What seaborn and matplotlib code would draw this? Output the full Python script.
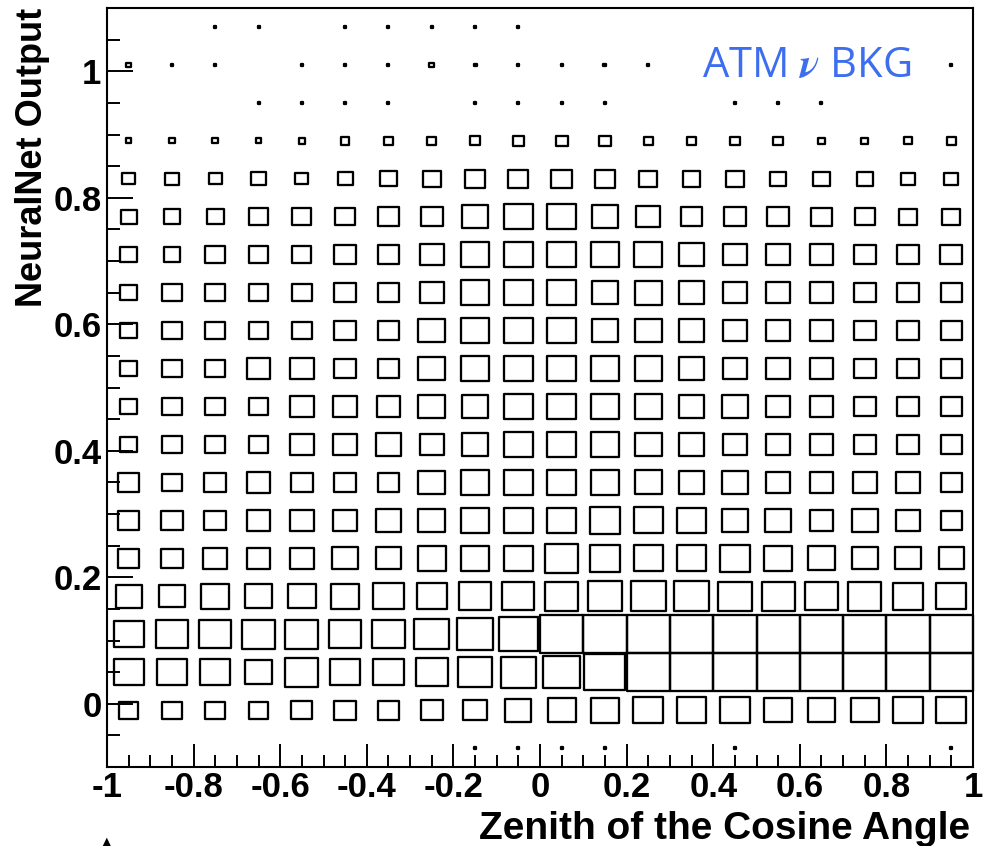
import numpy as np
import pandas as pd
import matplotlib
matplotlib.use("Agg")
import matplotlib.pyplot as plt
from matplotlib.path import Path
from matplotlib.markers import MarkerStyle
from matplotlib.ticker import MultipleLocator
import seaborn as sns

# ---- binning: 20 bins in cos(zenith), 20 bins in NeuralNet output ----
cos_lo, cos_hi, n_cos = -1.0, 1.0, 20
nn_lo, nn_hi, n_nn = -0.1, 1.1, 20

# ---- bin contents, one list per NeuralNet-output row (cos bins left -> right) ----
nn_m0p07 = [0, 0, 0, 0, 0, 0, 0, 0, 2, 2, 2, 2, 0, 0, 2, 0, 0, 0, 0, 2]
nn_m0p01 = [203, 203, 203, 203, 240, 253, 253, 270, 295, 366, 412, 433, 474, 474, 486, 424, 412, 424, 496, 486]
nn_0p05 = [486, 486, 486, 412, 574, 496, 486, 563, 624, 672, 738, 900, 1000, 1000, 1000, 1000, 1000, 1000, 1000, 1000]
nn_0p11 = [486, 563, 563, 574, 574, 563, 563, 646, 711, 832, 1000, 1000, 1000, 1000, 1000, 1000, 1000, 1000, 1000, 1000]
nn_0p17 = [366, 347, 424, 412, 412, 424, 486, 486, 563, 539, 574, 624, 635, 624, 599, 574, 553, 574, 496, 486]
nn_0p23 = [247, 247, 320, 295, 295, 347, 347, 433, 433, 433, 563, 496, 464, 464, 496, 433, 403, 347, 347, 347]
nn_0p29 = [247, 247, 247, 295, 295, 320, 347, 375, 433, 433, 433, 496, 464, 433, 375, 347, 295, 347, 295, 247]
nn_0p35 = [247, 203, 247, 295, 247, 247, 247, 375, 433, 433, 433, 433, 403, 347, 375, 295, 295, 295, 295, 247]
nn_0p41 = [145, 203, 203, 203, 295, 320, 347, 320, 375, 433, 433, 433, 375, 347, 320, 295, 295, 247, 247, 247]
nn_0p47 = [145, 203, 203, 203, 295, 320, 295, 375, 375, 433, 433, 433, 403, 347, 375, 295, 295, 247, 247, 247]
nn_0p53 = [145, 203, 203, 295, 295, 247, 247, 375, 433, 433, 433, 433, 403, 347, 320, 295, 295, 247, 247, 247]
nn_0p59 = [145, 203, 203, 203, 203, 247, 247, 375, 433, 433, 433, 375, 375, 347, 320, 295, 295, 247, 247, 247]
nn_0p65 = [151, 203, 203, 203, 203, 247, 247, 320, 433, 433, 433, 375, 403, 347, 320, 295, 295, 247, 247, 247]
nn_0p71 = [158, 151, 209, 197, 197, 253, 253, 312, 412, 433, 433, 433, 412, 355, 320, 295, 295, 253, 253, 253]
nn_0p77 = [140, 151, 151, 197, 197, 203, 253, 253, 366, 433, 433, 366, 320, 240, 253, 253, 218, 203, 183, 177]
nn_0p83 = [87, 97, 87, 123, 87, 123, 158, 169, 218, 218, 224, 218, 177, 169, 169, 128, 140, 140, 108, 108]
nn_0p89 = [16, 18, 18, 18, 20, 39, 39, 39, 55, 67, 74, 74, 48, 48, 51, 51, 30, 30, 32, 41]
nn_0p95 = [0, 0, 0, 2, 2, 2, 2, 0, 2, 2, 2, 2, 0, 0, 2, 2, 2, 0, 0, 0]
nn_1p01 = [12, 2, 2, 0, 2, 2, 2, 11, 5, 2, 2, 5, 2, 0, 0, 0, 0, 0, 0, 2]
nn_1p07 = [0, 0, 2, 2, 0, 2, 2, 2, 2, 2, 0, 0, 0, 0, 0, 0, 0, 0, 0, 0]

nn_rows = [nn_m0p07, nn_m0p01, nn_0p05, nn_0p11, nn_0p17, nn_0p23, nn_0p29,
           nn_0p35, nn_0p41, nn_0p47, nn_0p53, nn_0p59, nn_0p65, nn_0p71,
           nn_0p77, nn_0p83, nn_0p89, nn_0p95, nn_1p01, nn_1p07]
content_max = 1000

x_ticks = [-1, -0.8, -0.6, -0.4, -0.2, 0, 0.2, 0.4, 0.6, 0.8, 1]
x_ticklabels = ["-1", "-0.8", "-0.6", "-0.4", "-0.2", "0", "0.2", "0.4", "0.6", "0.8", "1"]
y_ticks = [0, 0.2, 0.4, 0.6, 0.8, 1.0]
y_ticklabels = ["0", "0.2", "0.4", "0.6", "0.8", "1"]

# ---- long-form table of non-empty cells ----
cos_w = (cos_hi - cos_lo) / n_cos
nn_w = (nn_hi - nn_lo) / n_nn
records = []
for j, row in enumerate(nn_rows):
    for i, c in enumerate(row):
        if c > 0:
            records.append({"cos": cos_lo + (i + 0.5) * cos_w,
                            "nn": nn_lo + (j + 0.5) * nn_w,
                            "content": c})
df = pd.DataFrame(records)

# ---- figure ----
sns.set_style("white")
plt.rcParams["font.family"] = ["Liberation Sans", "DejaVu Sans"]
plt.rcParams["font.weight"] = "bold"
for key in ("text.color", "axes.labelcolor", "xtick.color", "ytick.color", "axes.edgecolor"):
    plt.rcParams[key] = "black"

W, H = 1001, 846
fig = plt.figure(figsize=(W / 100, H / 100), dpi=100)
ax_l, ax_r, ax_t, ax_b = 107, 973, 8, 767
fig.subplots_adjust(left=ax_l / W, right=ax_r / W, top=1 - ax_t / H, bottom=1 - ax_b / H)
ax = fig.add_subplot(111)

# box marker with the aspect ratio of one cell; side ~ sqrt(content)
cell_w_px = (ax_r - ax_l) / n_cos
cell_h_px = (ax_b - ax_t) / n_nn
half_h = 0.5 * cell_h_px / cell_w_px
box = Path([(-0.5, -half_h), (0.5, -half_h), (0.5, half_h), (-0.5, half_h), (-0.5, -half_h)],
           [Path.MOVETO, Path.LINETO, Path.LINETO, Path.LINETO, Path.CLOSEPOLY])
box_marker = MarkerStyle(box, joinstyle="miter")
full_size = (cell_w_px * 72 / 100) ** 2

sns.scatterplot(data=df, x="cos", y="nn", size="content",
                sizes=(0, full_size), size_norm=(0, content_max),
                marker=box_marker, facecolor="none", edgecolor="black",
                linewidth=1.65, legend=False, ax=ax, zorder=3, clip_on=False)

ax.set_xlim(cos_lo, cos_hi)
ax.set_ylim(nn_lo, nn_hi)

ax.set_xticks(x_ticks)
ax.set_xticklabels(x_ticklabels)
ax.set_yticks(y_ticks)
ax.set_yticklabels(y_ticklabels)
ax.xaxis.set_minor_locator(MultipleLocator(0.05))
ax.yaxis.set_minor_locator(MultipleLocator(0.05))

ax.tick_params(axis="both", which="both", direction="in", top=False, right=False,
               bottom=True, left=True, width=1.4, color="black", labelcolor="black")
ax.tick_params(axis="x", which="major", length=16.5, labelsize=25, pad=3)
ax.tick_params(axis="x", which="minor", length=8.6)
ax.tick_params(axis="y", which="major", length=18.7, labelsize=25, pad=4)
ax.tick_params(axis="y", which="minor", length=9.7)

for s in ax.spines.values():
    s.set_visible(True)
    s.set_linewidth(1.5)
    s.set_color("black")

ax.set_xlabel("Zenith of the Cosine Angle", fontsize=28, fontweight="bold", loc="right",
              color="black")
ax.xaxis.set_label_coords(0.997, -0.058)
ax.set_ylabel("NeuralNet Output", fontsize=26, fontweight="bold", loc="top", color="black")
ax.yaxis.set_label_coords(-0.066, 1.0)

ax.text(0.687, 0.909, "ATM $\\nu$ BKG", transform=ax.transAxes, fontsize=30,
        family="Open Sans", fontweight="normal", color="#3d6ef0", va="baseline",
        ha="left", math_fontfamily="stix", zorder=5)

fig.text(107 / W, 1 - 845 / H, "\u25B2", fontsize=9, family="DejaVu Sans",
         ha="center", va="baseline", color="black")

fig.savefig("out.png", dpi=100)
